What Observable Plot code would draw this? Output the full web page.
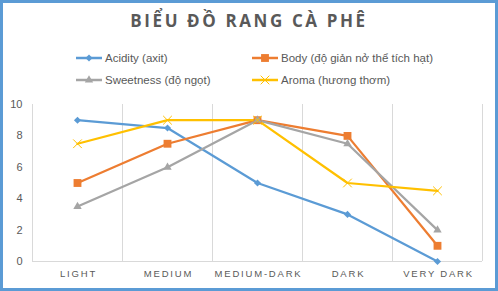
<!DOCTYPE html>
<html><head><meta charset="utf-8">
<script src="https://cdn.jsdelivr.net/npm/d3@7"></script>
<script src="https://cdn.jsdelivr.net/npm/@observablehq/plot@0.6"></script>
<style>
body{margin:0;background:#fff;}
#frame{position:relative;width:498px;height:291px;box-sizing:border-box;border:3px solid #5B9BD5;background:#fff;font-family:"Open Sans",sans-serif;overflow:hidden}
#title{position:absolute;left:0;right:0;top:6px;text-align:center;font-weight:bold;font-size:17px;letter-spacing:2.6px;color:#595959;line-height:24px}
.leg{position:absolute;display:flex;align-items:center;font-family:"Liberation Sans",sans-serif;font-size:11.5px;color:#595959;white-space:nowrap;height:16px}
.leg svg{margin-right:3px}
#chart{position:absolute;left:0;top:89px}
#chart g[aria-label="x-axis tick label"] text{letter-spacing:1.8px}
</style>
</head><body>
<div id="frame">
  <div id="title">BIỂU ĐỒ RANG CÀ PHÊ</div>
  <div id="legend"></div>
  <div id="chart"></div>
</div>
<script>
const categories = ["LIGHT", "MEDIUM", "MEDIUM-DARK", "DARK", "VERY DARK"];
const seriesNames = ["Acidity (axit)", "Body (độ giản nở thể tích hạt)", "Sweetness (độ ngọt)", "Aroma (hương thơm)"];
const acidity   = [9, 8.5, 5, 3, 0];
const body      = [5, 7.5, 9, 8, 1];
const sweetness = [3.5, 6, 9, 7.5, 2];
const aroma     = [7.5, 9, 9, 5, 4.5];
const yTicks = [0, 2, 4, 6, 8, 10];

const seriesValues = [acidity, body, sweetness, aroma];
const colors = ["#5B9BD5", "#ED7D31", "#A5A5A5", "#FFC000"];
const symbols = ["diamond2", "square2", "triangle2", "times"];
const d3symbols = [d3.symbolDiamond2, d3.symbolSquare2, d3.symbolTriangle2, d3.symbolTimes];
const radii = [3.2, 5, 4, 4];

// legend
const legendPos = [[73, 47], [249, 47], [73, 69], [249, 69]];
const legend = document.getElementById("legend");
seriesNames.forEach((name, i) => {
  const div = document.createElement("div");
  div.className = "leg";
  div.style.left = legendPos[i][0] + "px";
  div.style.top = legendPos[i][1] + "px";
  const path = d3.symbol(d3symbols[i], Math.PI * radii[i] * radii[i])();
  const filled = symbols[i] !== "times";
  div.innerHTML = `<svg width="26" height="14"><line x1="0" x2="26" y1="7" y2="7" stroke="${colors[i]}" stroke-width="2.5"/>` +
    `<path transform="translate(13,7)" d="${path}" fill="${filled ? colors[i] : "none"}" stroke="${colors[i]}" stroke-width="${filled ? 0 : 1}"/></svg><span>${name}</span>`;
  legend.appendChild(div);
});

const rows = [];
seriesValues.forEach((vals, s) => vals.forEach((v, i) => rows.push({series: s, i, v})));
const idx = categories.map((c, i) => i);

const marks = [
  Plot.ruleX(d3.range(-0.5, categories.length), {stroke: "#d9d9d9", strokeWidth: 1}),
  Plot.ruleY([0], {stroke: "#d9d9d9", strokeWidth: 1}),
  Plot.axisY({ticks: yTicks, tickSize: 0, tickPadding: 10, label: null, fontSize: 11}),
  Plot.axisX({ticks: idx, tickFormat: i => categories[i], tickSize: 0, tickPadding: 9, label: null, fontSize: 9.5, dx: 1})
];
seriesValues.forEach((vals, s) => {
  const data = rows.filter(r => r.series === s);
  marks.push(Plot.line(data, {x: "i", y: "v", stroke: colors[s], strokeWidth: 2.25}));
});
seriesValues.forEach((vals, s) => {
  const data = rows.filter(r => r.series === s);
  const filled = symbols[s] !== "times";
  marks.push(Plot.dot(data, {x: "i", y: "v", symbol: symbols[s], r: radii[s],
    fill: filled ? colors[s] : "none", stroke: colors[s], strokeWidth: filled ? 0 : 1}));
});

const chart = Plot.plot({
  width: 492, height: 196,
  marginTop: 12, marginBottom: 27, marginLeft: 29, marginRight: 13,
  x: {type: "linear", domain: [-0.5, categories.length - 0.5], axis: null},
  y: {domain: [0, 10], axis: null},
  style: {fontFamily: "'Liberation Sans', sans-serif", color: "#595959", background: "transparent", overflow: "visible"},
  marks
});
document.getElementById("chart").appendChild(chart);
</script>
</body></html>
